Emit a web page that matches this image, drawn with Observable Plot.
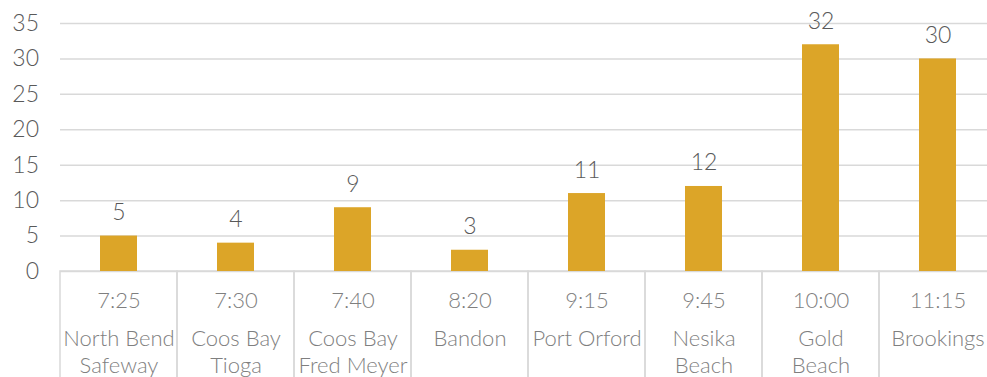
<!DOCTYPE html>
<html><head><meta charset="utf-8">
<script src="https://cdn.jsdelivr.net/npm/d3@7"></script>
<script src="https://cdn.jsdelivr.net/npm/@observablehq/plot@0.6"></script>
<style>body{margin:0;background:#fff}</style>
</head><body><div id="chart"></div>
<script>
const times = ["7:25","7:30","7:40","8:20","9:15","9:45","10:00","11:15"];
const stops = ["North Bend\nSafeway","Coos Bay\nTioga","Coos Bay\nFred Meyer","Bandon","Port Orford","Nesika\nBeach","Gold\nBeach","Brookings"];
const counts = [5,4,9,3,11,12,32,30];
const yTicks = [0,5,10,15,20,25,30,35];

const data = stops.map((s,i)=>({stop:s, time:times[i], count:counts[i]}));
const font = "Lato, 'Open Sans', sans-serif";

const chart = Plot.plot({
  width: 987, height: 377,
  marginLeft: 60, marginRight: -9, marginTop: 23, marginBottom: 106,
  style: {fontFamily: font, background: "#fff", overflow: "visible", fontWeight: 300},
  x: {domain: stops, padding: 0, axis: null},
  y: {domain: [0,35], axis: null},
  marks: [
    Plot.ruleY(yTicks, {stroke: "#d9d9d9", strokeWidth: 1.5}),
    Plot.rect(data, {x: "stop", y1: 0, y2: -16, stroke: "#d9d9d9", strokeWidth: 1.5, fill: "none", clip: false}),
    Plot.barY(data, {x: "stop", y: "count", fill: "#DCA528", insetLeft: 40, insetRight: 40}),
    Plot.text(data, {x: "stop", y: "count", text: d => String(d.count), lineAnchor: "bottom", dy: -16, fill: "#595959", fontSize: 23}),
    Plot.text(yTicks, {x: () => stops[0], y: d => d, text: d => String(d), textAnchor: "end", dx: -80, fill: "#595959", fontSize: 23, frameAnchor: "left"}),
    Plot.text(data, {x: "stop", text: "time", frameAnchor: "bottom", lineAnchor: "middle", dy: 29, fill: "#7f7f7f", fontSize: 22}),
    Plot.text(data, {x: "stop", text: "stop", frameAnchor: "bottom", lineAnchor: "top", dy: 56, lineHeight: 1.2, fill: "#7f7f7f", fontSize: 22})
  ]
});
document.getElementById("chart").appendChild(chart);
</script>
</body></html>
